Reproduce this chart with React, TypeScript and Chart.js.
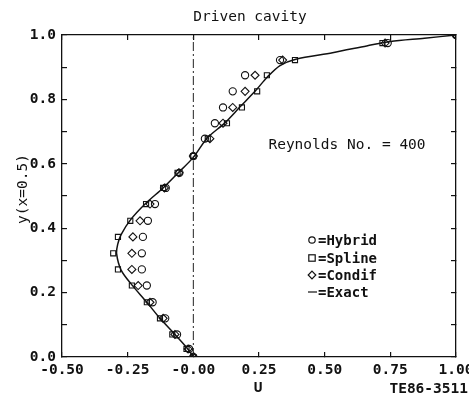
import React, { useEffect, useRef } from "react";
import { Chart, registerables } from "chart.js";

Chart.register(...registerables);

// ---- Data ----
const exactU = [0, -0.024, -0.07, -0.127, -0.177, -0.234, -0.275, -0.292, -0.288, -0.275, -0.24, -0.18, -0.115, -0.06, 0, 0.053, 0.12, 0.178, 0.24, 0.28, 0.33, 0.39, 0.53, 0.66, 0.75, 0.88, 1.0];
const exactY = [0, 0.028, 0.07, 0.12, 0.17, 0.224, 0.27, 0.32, 0.35, 0.38, 0.425, 0.478, 0.525, 0.57, 0.62, 0.68, 0.727, 0.777, 0.83, 0.868, 0.905, 0.925, 0.945, 0.966, 0.98, 0.99, 1.0];

const gridY = [0.0, 0.025, 0.07, 0.12, 0.17, 0.222, 0.272, 0.322, 0.373, 0.423, 0.475, 0.525, 0.572, 0.624, 0.678, 0.726, 0.775, 0.825, 0.875, 0.922, 0.975, 1.0];
const hybridU = [0.0, -0.016, -0.062, -0.107, -0.155, -0.177, -0.196, -0.196, -0.192, -0.173, -0.146, -0.105, -0.053, 0.0, 0.044, 0.082, 0.113, 0.15, 0.197, 0.33, 0.74, 1.0];
const condifU = [0.0, -0.02, -0.07, -0.115, -0.165, -0.21, -0.234, -0.234, -0.23, -0.203, -0.165, -0.11, -0.055, 0.0, 0.063, 0.113, 0.15, 0.197, 0.235, 0.34, 0.73, 1.0];
const splineU = [0.0, -0.026, -0.08, -0.127, -0.177, -0.234, -0.287, -0.305, -0.287, -0.24, -0.18, -0.115, -0.06, 0.0, 0.055, 0.128, 0.185, 0.243, 0.28, 0.387, 0.72, 1.0];

const zeroLineU = [0, 0];
const zeroLineY = [0, 1];

const chartTitle = "Driven cavity";
const annotation = "Reynolds No. = 400";
const legendItems = ["=Hybrid", "=Spline", "=Condif", "=Exact"];
const xTitle = "U";
const yTitle = "y(x=0.5)";
const figureId = "TE86-3511";

const xMin = -0.5, xMax = 1.0, xStep = 0.25;
const yMin = 0, yMax = 1.0, yStep = 0.1;

const zip = (xs: number[], ys: number[]) => xs.map((x, i) => ({ x, y: ys[i] }));

const FONT = "'DejaVu Sans Mono', monospace";

const textPlugin = {
  id: "textPlugin",
  afterDraw(chart: any) {
    const ctx = chart.ctx;
    ctx.save();
    ctx.fillStyle = "#111";
    ctx.strokeStyle = "#111";
    ctx.textBaseline = "middle";

    ctx.font = `14.5px ${FONT}`;
    ctx.textAlign = "center";
    ctx.fillText(chartTitle, 250, 17);
    ctx.fillText(annotation, 347, 145);

    ctx.font = `bold 14.5px ${FONT}`;
    ctx.fillText(xTitle, 258, 388);
    ctx.textAlign = "right";
    ctx.fillText(figureId, 468, 389);

    // y title
    ctx.save();
    ctx.translate(23, 189);
    ctx.rotate(-Math.PI / 2);
    ctx.textAlign = "center";
    ctx.font = `14.5px ${FONT}`;
    ctx.fillText(yTitle, 0, 0);
    ctx.restore();

    // legend
    const ys = [240, 258, 275, 292];
    ctx.textAlign = "left";
    ctx.font = `bold 14px ${FONT}`;
    ctx.lineWidth = 1.2;
    legendItems.forEach((t, i) => {
      const y = ys[i];
      const sx = 312;
      ctx.beginPath();
      if (i === 0) {
        ctx.arc(sx, y, 3.2, 0, Math.PI * 2);
        ctx.stroke();
      } else if (i === 1) {
        ctx.strokeRect(sx - 3.2, y - 3.2, 6.4, 6.4);
      } else if (i === 2) {
        ctx.moveTo(sx, y - 3.8);
        ctx.lineTo(sx + 3.8, y);
        ctx.lineTo(sx, y + 3.8);
        ctx.lineTo(sx - 3.8, y);
        ctx.closePath();
        ctx.stroke();
      } else {
        ctx.moveTo(sx - 4, y);
        ctx.lineTo(sx + 5, y);
        ctx.stroke();
      }
      ctx.fillText(t, 318, y + 1);
    });
    ctx.restore();
  },
};

const zeroPad = (s: any) => {
  s.paddingLeft = 0;
  s.paddingRight = 0;
  s.paddingTop = 0;
  s.paddingBottom = 0;
};

export default function App() {
  const ref = useRef<HTMLCanvasElement | null>(null);

  useEffect(() => {
    document.body.style.margin = "0";
    const canvas = ref.current;
    if (!canvas) return;

    const markerCommon = {
      showLine: false,
      borderColor: "#111",
      backgroundColor: "rgba(0,0,0,0)",
      borderWidth: 1.1,
      pointRadius: 3.6,
    };

    const chart = new Chart(canvas, {
      type: "scatter",
      data: {
        datasets: [
          {
            label: "zero",
            data: zip(zeroLineU, zeroLineY),
            showLine: true,
            borderColor: "#222",
            borderWidth: 1,
            borderDash: [9, 3, 2, 3],
            pointRadius: 0,
          },
          {
            label: "Exact",
            data: zip(exactU, exactY),
            showLine: true,
            borderColor: "#111",
            borderWidth: 1.5,
            tension: 0.3,
            pointRadius: 0,
          },
          {
            label: "Hybrid",
            data: zip(hybridU, gridY),
            pointStyle: "circle",
            ...markerCommon,
          },
          {
            label: "Spline",
            data: zip(splineU, gridY),
            pointStyle: "rect",
            ...markerCommon,
          },
          {
            label: "Condif",
            data: zip(condifU, gridY),
            pointStyle: "rectRot",
            ...markerCommon,
            pointRadius: 4,
          },
        ],
      } as any,
      options: {
        animation: false,
        responsive: false,
        devicePixelRatio: 1,
        events: [],
        layout: { padding: { top: 35, right: 13, bottom: 0, left: 0 } },
        plugins: {
          legend: { display: false },
          title: { display: false },
          tooltip: { enabled: false },
        },
        scales: {
          x: {
            type: "linear",
            position: "bottom",
            min: xMin,
            max: xMax,
            border: { display: true, color: "#111", width: 1.3 },
            grid: { display: true, drawOnChartArea: false, drawTicks: true, tickLength: -5, color: "#111", lineWidth: 1.2 },
            ticks: {
              stepSize: xStep,
              autoSkip: false,
              maxRotation: 0,
              padding: 10,
              color: "#111",
              font: { family: FONT, size: 14.5, weight: "bold" },
              callback: (v: any) => {
                const n = Number(v);
                return Math.abs(n) < 1e-9 ? "-0.00" : n.toFixed(2);
              },
            },
            afterFit: (s: any) => { s.height = 44; zeroPad(s); },
          },
          x2: {
            type: "linear",
            position: "top",
            min: xMin,
            max: xMax,
            border: { display: true, color: "#111", width: 1.3 },
            grid: { display: true, drawOnChartArea: false, drawTicks: true, tickLength: -5, color: "#111", lineWidth: 1.2 },
            ticks: { stepSize: xStep, display: false },
            afterFit: (s: any) => { s.height = 0; zeroPad(s); },
          },
          y: {
            type: "linear",
            position: "left",
            min: yMin,
            max: yMax,
            border: { display: true, color: "#111", width: 1.3 },
            grid: { display: true, drawOnChartArea: false, drawTicks: true, tickLength: -5, color: "#111", lineWidth: 1.2 },
            ticks: {
              stepSize: yStep,
              autoSkip: false,
              padding: 11,
              color: "#111",
              font: { family: FONT, size: 14.5, weight: "bold" },
              callback: (v: any) => {
                const n = Number(v);
                return Math.round(n * 10) % 2 === 0 ? n.toFixed(1) : "";
              },
            },
            afterFit: (s: any) => { s.width = 62; zeroPad(s); },
          },
          y2: {
            type: "linear",
            position: "right",
            min: yMin,
            max: yMax,
            border: { display: true, color: "#111", width: 1.3 },
            grid: { display: true, drawOnChartArea: false, drawTicks: true, tickLength: -5, color: "#111", lineWidth: 1.2 },
            ticks: { stepSize: yStep, display: false },
            afterFit: (s: any) => { s.width = 0; zeroPad(s); },
          },
        },
      } as any,
      plugins: [textPlugin],
    });

    return () => chart.destroy();
  }, []);

  return (
    <div style={{ width: 469, height: 401, background: "#fff" }}>
      <canvas ref={ref} width={469} height={401} style={{ display: "block", width: 469, height: 401 }} />
    </div>
  );
}
